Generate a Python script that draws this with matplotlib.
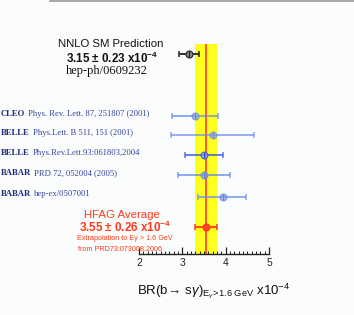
"""b -> s gamma branching ratio: measurements vs NNLO SM prediction and HFAG average."""

import matplotlib

matplotlib.use("Agg")
import matplotlib.pyplot as plt
import matplotlib.transforms as mtransforms
from matplotlib.lines import Line2D

plt.rcParams["mathtext.fontset"] = "custom"
plt.rcParams["mathtext.rm"] = "Liberation Sans"
plt.rcParams["mathtext.it"] = "Liberation Sans:italic"
plt.rcParams["mathtext.bf"] = "Liberation Sans:bold"

BG = "#fbfdfd"
SANS = "Liberation Sans"
SERIF = "Liberation Serif"
NAVY = "#1c2c80"
RED = "#ff3a1a"

# BR(b -> s gamma) x 1e-4, E_gamma > 1.6 GeV
SM_VAL, SM_ERR = 3.15, 0.23
AVG_VAL, AVG_ERR = 3.55, 0.26

EXP_NAMES = ["CLEO", "BELLE", "BELLE", "BABAR", "BABAR"]
EXP_REFS = [
    "Phys. Rev. Lett. 87, 251807 (2001)",
    "Phys.Lett. B 511, 151 (2001)",
    "Phys.Rev.Lett.93:061803,2004",
    "PRD 72, 052004 (2005)",
    "hep-ex/0507001",
]
EXP_VAL = [3.30, 3.70, 3.50, 3.49, 3.94]
EXP_LO = [0.54, 0.97, 0.45, 0.60, 0.57]
EXP_HI = [0.52, 0.96, 0.44, 0.61, 0.54]
EXP_COLORS = ["#5f86ee", "#6a8cf6", "#2449ee", "#5a80ee", "#5f86ee"]

XTICKS = [2, 3, 4, 5]

# vertical row positions (axis units, top = 0)
Y_SM = 0.5
Y_EXP = [3.6, 4.57, 5.57, 6.57, 7.63]
Y_AVG = 9.13

W, H = 354, 315
fig = plt.figure(figsize=(W / 100, H / 100), dpi=100)
fig.patch.set_facecolor(BG)
ax = fig.add_axes([139 / W, 1 - 254 / H, 130 / W, 210 / H])
ax.patch.set_visible(False)
ax.set_xlim(2, 5)
ax.set_ylim(10.5, 0)

# average band + central line
ax.axvspan(AVG_VAL - AVG_ERR, AVG_VAL + AVG_ERR, color="#ffff1e", lw=0, zorder=1)
ax.axvline(AVG_VAL, color="#ff4a2a", lw=1.3, zorder=2)


def point(x, y, lo, hi, col, face, alpha=1.0):
    ax.errorbar(x, y, xerr=[[lo], [hi]], fmt="none", ecolor=col, elinewidth=1.3,
                capsize=2.5, capthick=1.1, alpha=alpha, zorder=3)
    ax.plot(x, y, "o", ms=5, mfc=face, mec=col, mew=0.8, alpha=alpha, zorder=4)
    ax.plot(x, y, "|", ms=4, mec=col, mew=0.8, zorder=5)


point(SM_VAL, Y_SM, SM_ERR, SM_ERR, "#222222", "#8a8a8a")
for v, y, lo, hi, c in zip(EXP_VAL, Y_EXP, EXP_LO, EXP_HI, EXP_COLORS):
    point(v, y, lo, hi, c, "#8ea0d8", alpha=0.75)
point(AVG_VAL, Y_AVG, AVG_ERR, AVG_ERR, RED, "#ff4a2a")

# axis styling
for s in ["top", "left", "right"]:
    ax.spines[s].set_visible(False)
ax.spines["bottom"].set_color("#222222")
ax.spines["bottom"].set_linewidth(1.0)
ax.set_yticks([])
ax.set_xticks(XTICKS)
ax.set_xticks([2 + i / 10 for i in range(31)], minor=True)
ax.tick_params(axis="x", which="major", direction="in", length=5, width=0.9,
               labelsize=7.5, pad=3, colors="#222222")
ax.tick_params(axis="x", which="minor", direction="in", length=2.5, width=0.7,
               colors="#222222")
for lab in ax.get_xticklabels():
    lab.set_fontfamily(SANS)

fig.text(214 / W, 1 - 291 / H,
         r"BR(b$\!\rightarrow\,$s$\gamma$)$_{\mathrm{E}_{\gamma}\!>\!1.6\ \mathrm{GeV}}$ x10$^{-4}$",
         ha="center", va="center", fontsize=9.5, family=SANS, color="#111111")

# experiment labels on the left
tr = mtransforms.blended_transform_factory(fig.transFigure, ax.transData)
for name, ref, y in zip(EXP_NAMES, EXP_REFS, Y_EXP):
    t = ax.text(1 / W, y - 0.12, name, transform=tr, ha="left", va="center",
                fontsize=6.2, family=SERIF, weight="bold", color=NAVY)
    ax.annotate(ref, xy=(1, 0.5), xycoords=t, xytext=(2.2, 0),
                textcoords="offset points", ha="left", va="center",
                fontsize=6.2, family=SERIF, color="#3444a0")

# SM prediction text
fig.text(111 / W, 1 - 44 / H, "NNLO SM Prediction", ha="center", va="center",
         fontsize=8.2, family=SANS, color="#111111")
fig.text(112 / W, 1 - 58 / H, r"3.15 ± 0.23 x10$^{\mathbf{-4}}$", ha="center",
         va="center", fontsize=8.4, family=SANS, weight="bold", color="#111111")
fig.text(107 / W, 1 - 71 / H, "hep-ph/0609232", ha="center", va="center",
         fontsize=9, family=SERIF, color="#111111")

# HFAG average text
fig.text(122 / W, 1 - 215 / H, "HFAG Average", ha="center", va="center",
         fontsize=8.2, family=SANS, color=RED)
fig.text(125 / W, 1 - 227 / H, r"3.55 ± 0.26 x10$^{\mathbf{-4}}$", ha="center",
         va="center", fontsize=8.4, family=SANS, weight="bold", color=RED)
fig.text(125 / W, 1 - 238.5 / H, "Extrapolation to Eγ > 1.6 GeV",
         ha="center", va="center", fontsize=5.2, family=SANS, color=RED)
fig.text(120 / W, 1 - 249 / H, "from PRD73:073008,2006", ha="center",
         va="center", fontsize=5.2, family=SANS, color=RED)

# frame edge at the top
fig.add_artist(Line2D([50 / W, 1], [1 - 1 / H, 1 - 1 / H], color="#999999", lw=1.2))

fig.savefig("out.png", dpi=100, facecolor=BG)
